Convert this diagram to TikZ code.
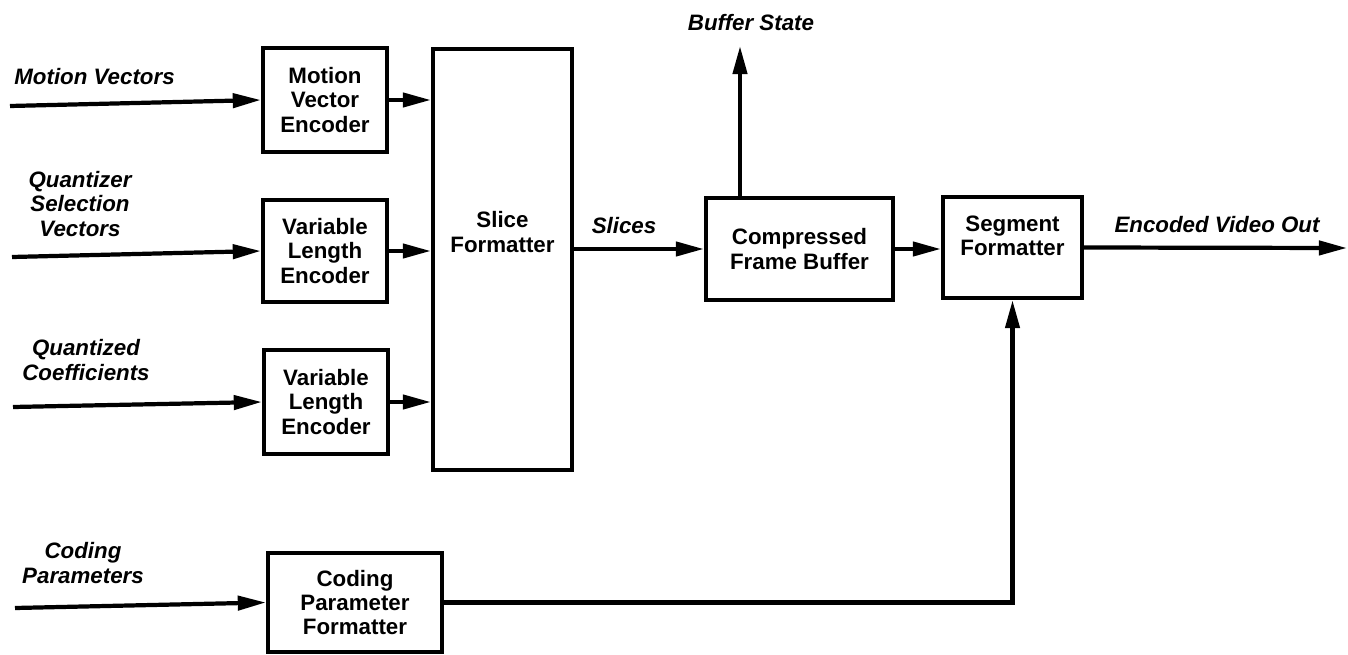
\documentclass[tikz,border=0pt]{standalone}
\usepackage{fontspec}
\setmainfont{Liberation Sans}
\usetikzlibrary{arrows.meta}

\begin{document}
\begin{tikzpicture}[x=0.02cm, y=-0.02cm,
    boxtxt/.style={align=center, inner sep=0pt,
        font=\fontsize{12.7}{13.8}\selectfont\bfseries},
    blk/.style={boxtxt, draw, line width=2.4pt},
    lbl/.style={align=center, inner sep=0pt,
        font=\fontsize{12.7}{13.8}\selectfont\bfseries\itshape},
    flow/.style={line width=2.4pt, -{Triangle[length=16pt, width=8pt]}}]
    \useasboundingbox (0,0) rectangle (1348,655);
    % Encoders
    \node[blk, minimum width=2.48cm, minimum height=2.08cm] (mve) at (325,100) {Motion\\Vector\\Encoder};
    \node[blk, minimum width=2.48cm, minimum height=2.04cm] (vle1) at (325,251) {Variable\\Length\\Encoder};
    \node[blk, minimum width=2.48cm, minimum height=2.08cm] (vle2) at (326,402) {Variable\\Length\\Encoder};
    % Formatters and buffer
    \node[blk, minimum width=2.78cm, minimum height=8.42cm] (slice) at (502.5,259.5) {};
    \node[boxtxt] (slicetxt) at (502.5,232) {Slice\\Formatter};
    \node[blk, minimum width=3.74cm, minimum height=2.04cm] (cfb) at (799.5,249) {Compressed\\Frame Buffer};
    \node[blk, minimum width=2.78cm, minimum height=2.02cm] (seg) at (1012.5,247.5) {};
    \node[boxtxt] (segtxt) at (1012.5,236) {Segment\\Formatter};
    \node[blk, minimum width=3.48cm, minimum height=1.98cm] (cpf) at (355,602.5) {Coding\\Parameter\\Formatter};
    % Free ends
    \coordinate (mvin) at (10,106);
    \coordinate (qsvin) at (12,257);
    \coordinate (qcin) at (13,407);
    \coordinate (cpin) at (15,608);
    \coordinate (bufout) at (740,46);
    \coordinate (vidout) at (1347,248);
    % Inputs
    \draw[flow] (mvin) -- (mve.west);
    \draw[flow] (qsvin) -- (vle1.west);
    \draw[flow] (qcin) -- (vle2.west);
    \draw[flow] (cpin) -- (cpf.west);
    \foreach \e in {mve, vle1, vle2}
        \draw[flow] (\e.east) -- (\e.east -| slice.west);
    % Main path
    \draw[flow] (cfb.west -| slice.east) -- (cfb.west);
    \draw[flow] (cfb.east) -- (cfb.east -| seg.west);
    \draw[flow] (seg.east) -- (vidout);
    \draw[flow] (bufout |- cfb.north) -- (bufout);
    \draw[flow] (cpf.east) -| (seg.south);
    % Labels
    \node[lbl, anchor=west] (mvlbl) at (14,77) {Motion Vectors};
    \node[lbl] (qsvlbl) at (80,204) {Quantizer\\Selection\\Vectors};
    \node[lbl] (qclbl) at (86,360) {Quantized\\Coefficients};
    \node[lbl] (cplbl) at (83,563) {Coding\\Parameters};
    \node[lbl] (sllbl) at (624,226) {Slices};
    \node[lbl] (bslbl) at (751,23) {Buffer State};
    \node[lbl] (evlbl) at (1217,225) {Encoded Video Out};
\end{tikzpicture}
\end{document}
